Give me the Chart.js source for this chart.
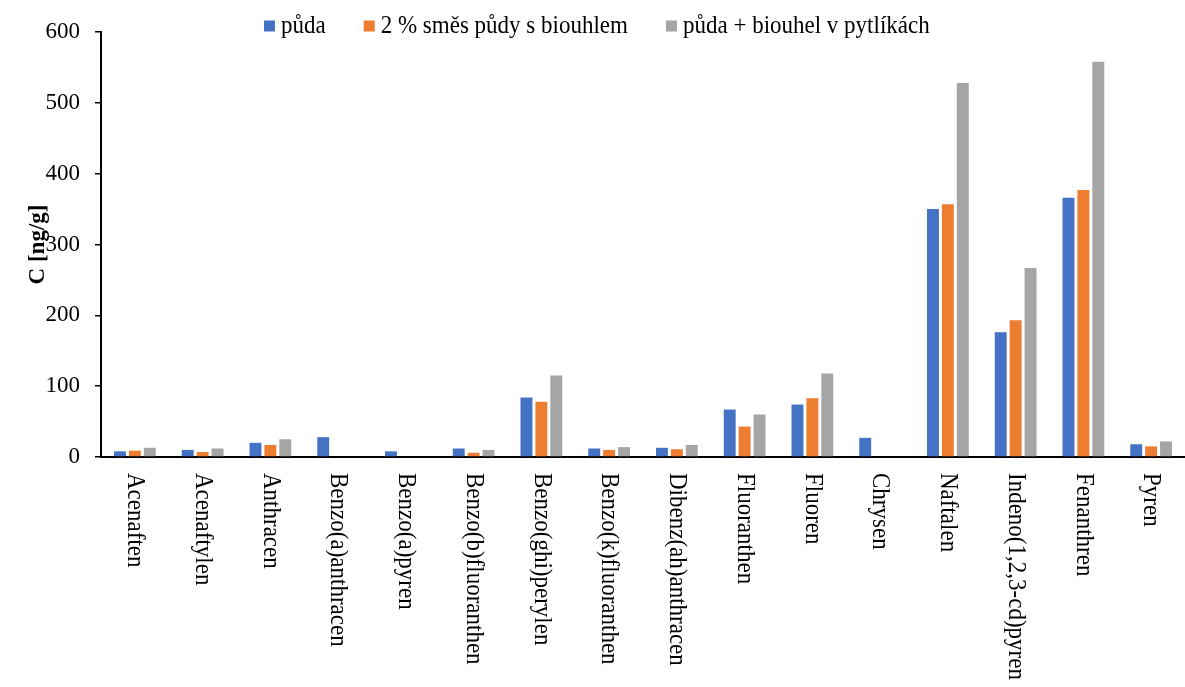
<!DOCTYPE html>
<html>
<head>
<meta charset="utf-8">
<script src="https://cdn.jsdelivr.net/npm/chart.js@4.4.1/dist/chart.umd.min.js"></script>
<style>
html,body{margin:0;padding:0;background:#fff;}
#wrap{width:1185px;height:687px;position:relative;}
</style>
</head>
<body>
<div id="wrap"><canvas id="c" width="1185" height="687"></canvas></div>
<script>
const categories = ["Acenaften","Acenaftylen","Anthracen","Benzo(a)anthracen","Benzo(a)pyren","Benzo(b)fluoranthen","Benzo(ghi)perylen","Benzo(k)fluoranthen","Dibenz(ah)anthracen","Fluoranthen","Fluoren","Chrysen","Naftalen","Indeno(1,2,3-cd)pyren","Fenanthren","Pyren"];
const seriesNames = ["půda","2 % směs půdy s biouhlem","půda + biouhel v pytlíkách"];
const puda     = [8, 10, 20, 28, 8, 12, 84, 12, 13, 67, 74, 27, 350, 176, 366, 18];
const smes     = [9, 7, 17, 0, 0, 6, 78, 10, 11, 43, 83, 0, 357, 193, 377, 15];
const pytliky  = [13, 12, 25, 0, 0, 10, 115, 14, 17, 60, 118, 0, 528, 267, 558, 22];
const yTicks   = [0, 100, 200, 300, 400, 500, 600];
const colors   = ["#4472C4", "#ED7D31", "#A5A5A5"];
const FONT = "'Liberation Serif', 'Times New Roman', serif";

const xLabelPlugin = {
  id: 'xLabels',
  afterDraw(chart) {
    const ctx = chart.ctx;
    const xs = chart.scales.x;
    ctx.save();
    ctx.font = "23px " + FONT;
    ctx.fillStyle = "#000";
    ctx.textAlign = "left";
    ctx.textBaseline = "middle";
    categories.forEach((lab, i) => {
      const x = xs.getPixelForValue(i);
      ctx.save();
      ctx.translate(x, xs.top + 16);
      ctx.rotate(Math.PI / 2);
      ctx.scale(1, 1.1);
      ctx.fillText(lab, 0, 0);
      ctx.restore();
    });
    // legend
    let x = 264;
    chart.data.datasets.forEach(ds => {
      ctx.fillStyle = ds.backgroundColor;
      ctx.fillRect(x, 20.5, 11, 11);
      ctx.fillStyle = "#000";
      ctx.save();
      ctx.translate(x + 17, 26.5);
      ctx.scale(1, 1.1);
      ctx.fillText(ds.label, 0, 0);
      ctx.restore();
      x += 17 + ctx.measureText(ds.label).width + 38;
    });
    ctx.restore();
  }
};

new Chart(document.getElementById('c'), {
  type: 'bar',
  data: {
    labels: categories,
    datasets: [
      { label: seriesNames[0], data: puda, backgroundColor: colors[0] },
      { label: seriesNames[1], data: smes, backgroundColor: colors[1] },
      { label: seriesNames[2], data: pytliky, backgroundColor: colors[2] }
    ]
  },
  options: {
    responsive: false,
    animation: false,
    devicePixelRatio: 1,
    layout: { padding: { left: 20, right: -9, top: 32, bottom: 0 } },
    datasets: { bar: { categoryPercentage: 0.66, barPercentage: 0.8 } },
    plugins: {
      legend: { display: false },
      tooltip: { enabled: false }
    },
    scales: {
      x: {
        ticks: { display: false },
        grid: { display: false },
        border: { color: '#000', width: 2 },
        afterFit(scale) { scale.height = 230; }
      },
      y: {
        min: 0, max: 600,
        afterBuildTicks(scale) { scale.ticks = yTicks.map(v => ({ value: v })); },
        ticks: { color: '#000', font: { family: FONT, size: 23 }, padding: 15 },
        grid: { drawOnChartArea: false, drawTicks: true, tickLength: 6, color: '#000', lineWidth: 1.5 },
        border: { color: '#000', width: 2 },
        title: { display: true, text: 'C [ng/g]', color: '#000', font: { family: FONT, size: 23, weight: 'bold' }, padding: { top: 4, bottom: 0 } },
        afterFit(scale) { scale.width = 81; }
      }
    }
  },
  plugins: [xLabelPlugin]
});
</script>
</body>
</html>
